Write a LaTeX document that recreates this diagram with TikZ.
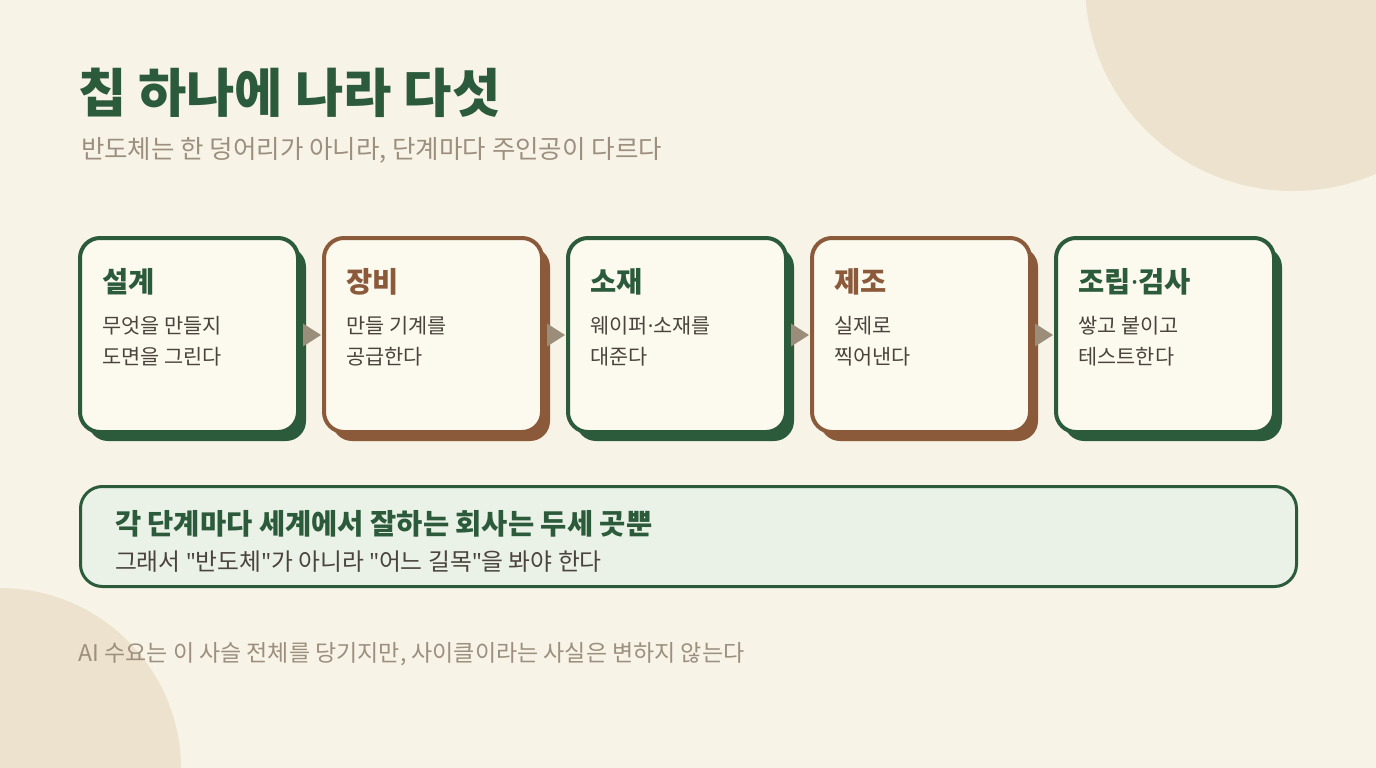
\documentclass[tikz,border=0pt]{standalone}
\usepackage{fontspec}
\setmainfont{Noto Sans CJK KR}
\newfontfamily\latinfont{Noto Sans}
\usetikzlibrary{calc,shadows}
\definecolor{bgc}{HTML}{F7F3E7}
\definecolor{circc}{HTML}{EDE2CD}
\definecolor{grn}{HTML}{2C5B3C}
\definecolor{brn}{HTML}{8B5A3A}
\definecolor{boxfill}{HTML}{FCF9EF}
\definecolor{notefill}{HTML}{EAF1E7}
\definecolor{bodytxt}{HTML}{4A443C}
\definecolor{subtxt}{HTML}{9C8F7D}
\definecolor{arrowc}{HTML}{9A8D7A}
\newcommand\mdot{{\latinfont ·}}
\newcommand\dq{{\latinfont\char34\relax}}
\tikzset{
  stage/.style={draw=#1, line width=4pt, fill=boxfill, rounded corners=20pt,
    minimum width=218pt, minimum height=194pt, inner sep=0pt,
    general shadow={fill=#1, shadow xshift=8pt, shadow yshift=-9pt}},
  txt/.style={inner sep=0pt, outer sep=0pt, anchor=west},
  stagehead/.style={txt, font=\fontsize{28.5}{32}\selectfont\bfseries, text=#1},
  stagebody/.style={txt, font=\fontsize{20.8}{25}\selectfont, text=bodytxt},
  tri/.style={fill=arrowc}
}
\begin{document}
\begin{tikzpicture}[x=1pt,y=-1pt]
\useasboundingbox (0,0) rectangle (1376,768);
\fill[bgc] (0,0) rectangle (1376,768);
\fill[circc] (1293,-17) circle (208);
\fill[circc] (0,769) circle (181);

\node[txt, font=\fontsize{52.5}{60}\selectfont\bfseries, text=grn] (title) at (78,93) {칩 하나에 나라 다섯};
\node[txt, font=\fontsize{25.5}{30}\selectfont, text=subtxt] (sub) at (81,150) {반도체는 한 덩어리가 아니라, 단계마다 주인공이 다르다};

\foreach \i/\c/\h/\la/\lb in {0/grn/설계/무엇을 만들지/도면을 그린다,
                           1/brn/장비/만들 기계를/공급한다,
                           2/grn/소재/웨이퍼\mdot 소재를/대준다,
                           3/brn/제조/실제로/찍어낸다,
                           4/grn/조립\mdot 검사/쌓고 붙이고/테스트한다} {
  \node[stage=\c] (b\i) at ({189+244*\i},335) {};
  \node[stagehead=\c] (h\i) at ($(b\i.north west)+(24.5,46)$) {\h};
  \node[stagebody] (la\i) at ($(b\i.north west)+(24.5,90)$) {\la};
  \node[stagebody] (lb\i) at ($(b\i.north west)+(24.5,121)$) {\lb};
}
\foreach \i in {0,1,2,3} {
  \fill[tri] ($(b\i.east)+(3,-11.5)$) -- ($(b\i.east)+(21,0)$) -- ($(b\i.east)+(3,11.5)$) -- cycle;
}

\node[draw=grn, line width=3pt, fill=notefill, rounded corners=22pt,
      minimum width=1216pt, minimum height=100pt, inner sep=0pt] (note) at (688.5,536.5) {};
\node[txt, font=\fontsize{28.5}{32}\selectfont\bfseries, text=grn] (nh) at ($(note.north west)+(36,39)$) {각 단계마다 세계에서 잘하는 회사는 두세 곳뿐};
\node[txt, font=\fontsize{23.8}{28}\selectfont, text=bodytxt] (nb) at ($(note.north west)+(36,77)$) {그래서 \dq 반도체\dq 가 아니라 \dq 어느 길목\dq 을 봐야 한다};

\node[txt, font=\fontsize{23}{27}\selectfont, text=subtxt] (foot) at (78.5,654) {AI 수요는 이 사슬 전체를 당기지만, 사이클이라는 사실은 변하지 않는다};
\end{tikzpicture}
\end{document}
